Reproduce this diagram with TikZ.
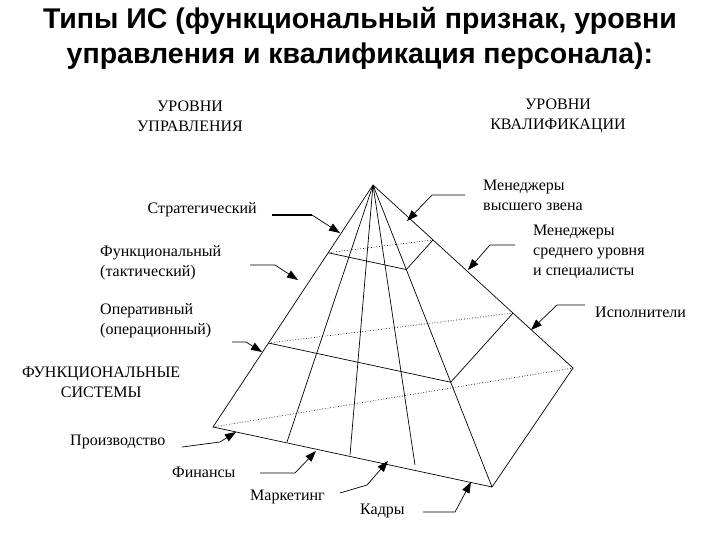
\documentclass[tikz,border=0pt]{standalone}
\usepackage{fontspec}
\setmainfont{Liberation Serif}
\newfontfamily\titlefont{Liberation Sans}
\usetikzlibrary{arrows.meta,calc}
\begin{document}
\begin{tikzpicture}[x=1pt,y=-1pt,
  lbl/.style={inner sep=0pt,font=\fontsize{16}{20}\selectfont,align=left},
  edge/.style={line width=0.7pt},
  lead/.style={line width=0.7pt,-{Triangle[length=11pt,width=8pt]}},
  dots/.style={line width=0.7pt,dotted}]
\useasboundingbox (0,0) rectangle (720,540);
\node[font=\titlefont\bfseries\fontsize{28.5}{35}\selectfont,align=center] (title) at (360,38) {Типы ИС (функциональный признак, уровни\\управления и квалификация персонала):};
% pyramid
\coordinate (A) at (373,185);
\coordinate (L) at (213,427);
\coordinate (F) at (492,487);
\coordinate (R) at (573,368);
\coordinate (l1) at ($(A)!0.28!(L)$);
\coordinate (f1) at ($(A)!0.28!(F)$);
\coordinate (r1) at ($(A)!0.30!(R)$);
\coordinate (l2) at ($(A)!0.653!(L)$);
\coordinate (f2) at ($(A)!0.653!(F)$);
\coordinate (r2) at ($(A)!0.70!(R)$);
\draw[edge] (A) -- (L) -- (F) -- (R) -- cycle (A) -- (F);
\draw[edge] (l1) -- (f1) -- (r1) (l2) -- (f2) -- (r2);
\draw[dots] (L) -- (R) (l1) -- (r1) (l2) -- (r2);
\coordinate (b1) at (287,442);
\coordinate (b2) at (350,455);
\coordinate (b3) at (415,465);
\draw[edge] (A) -- (b1) (A) -- (b2) (A) -- (b3);
% labels
\node[lbl,align=center] (ul) at (190,116) {УРОВНИ\\УПРАВЛЕНИЯ};
\node[lbl,align=center] (uk) at (558,116) {УРОВНИ\\КВАЛИФИКАЦИИ};
\node[lbl,anchor=east] (s) at (257,210) {Стратегический};
\node[lbl,anchor=west] (fn) at (100,263) {Функциональный\\(тактический)};
\node[lbl,anchor=west] (op) at (100,321) {Оперативный\\(операционный)};
\node[lbl,anchor=west,align=center] (fs) at (22,382) {ФУНКЦИОНАЛЬНЫЕ\\СИСТЕМЫ};
\node[lbl,anchor=west] (pr) at (70,442) {Производство};
\node[lbl,anchor=west] (fi) at (172,472) {Финансы};
\node[lbl,anchor=west] (mk) at (250,497) {Маркетинг};
\node[lbl,anchor=west] (kd) at (360,511) {Кадры};
\node[lbl,anchor=west] (mv) at (483,195) {Менеджеры\\высшего звена};
\node[lbl,anchor=west] (ms) at (533,252) {Менеджеры\\среднего уровня\\и специалисты};
\node[lbl,anchor=west] (is) at (595,312) {Исполнители};
% leaders
\coordinate (sa) at (340,233);
\draw[line width=1.8pt] (272,215) -- (312,215);
\draw[lead] (312,215) -- (sa);
\draw[lead] (250,265) -- (275,265) -- (298,280);
\draw[lead] (232,342) -- (246,342) -- (262,352);
\draw[lead] (465,195) -- (432,195) -- (407,221);
\draw[lead] (515,245) -- (490,245) -- (468,270);
\draw[lead] (585,305) -- (557,305) -- (531,330);
\draw[lead] (182,447) -- (220,442) -- (236,432);
\draw[lead] (260,473) -- (295,473) -- (316,451);
\draw[lead] (340,493) -- (367,485) -- (388,461);
\draw[lead] (423,512) -- (455,512) -- (471,482);
\end{tikzpicture}
\end{document}
